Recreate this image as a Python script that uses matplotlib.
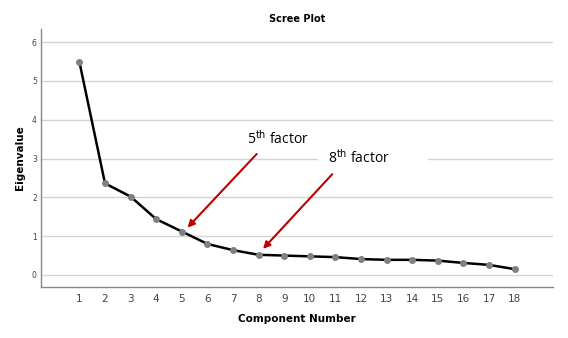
import matplotlib.pyplot as plt
from matplotlib.patches import Rectangle

components = list(range(1, 19))
eigenvalues = [5.49, 2.36, 2.02, 1.44, 1.12, 0.80, 0.64, 0.52, 0.50,
               0.48, 0.46, 0.41, 0.39, 0.39, 0.37, 0.31, 0.26, 0.15]
y_ticks = [0, 1, 2, 3, 4, 5, 6]

fig = plt.figure(figsize=(5.68, 3.38), dpi=100)
ax = fig.add_axes([0.0722, 0.1509, 0.9014, 0.7633])

for y in y_ticks:
    ax.axhline(y, color='#d4d4d4', lw=1.0, zorder=0)

ax.plot(components, eigenvalues, '-', color='black', lw=1.8, zorder=2)
ax.plot(components, eigenvalues, 'o', color='#808080', ms=4, zorder=3)

ax.set_xlim(-0.5, 19.5)
ax.set_ylim(-0.31, 6.34)
ax.set_xticks(components)
ax.set_yticks(y_ticks)
ax.tick_params(axis='x', length=0, labelsize=7.5, labelcolor='#444444', pad=5)
ax.tick_params(axis='y', length=0, labelsize=5.5, labelcolor='#444444', pad=3)

for s in ['top', 'right']:
    ax.spines[s].set_visible(False)
for s in ['left', 'bottom']:
    ax.spines[s].set_color('#888888')
    ax.spines[s].set_linewidth(1.0)

ax.set_title('Scree Plot', fontsize=7, fontweight='bold', pad=5)
ax.set_xlabel('Component Number', fontsize=7.5, fontweight='bold', labelpad=7)
ax.set_ylabel('Eigenvalue', fontsize=7.5, fontweight='bold', labelpad=5)

red = '#c00000'
ax.annotate('', xy=(5.15, 1.17), xytext=(8.0, 3.17),
            arrowprops=dict(arrowstyle='-|>', color=red, lw=1.5, mutation_scale=10))
ax.annotate('', xy=(8.1, 0.62), xytext=(10.95, 2.65),
            arrowprops=dict(arrowstyle='-|>', color=red, lw=1.5, mutation_scale=10))

# white box behind the second label (covers the gridline)
ax.add_patch(Rectangle((10.32, 2.82), 4.3, 0.38, facecolor='white',
                       edgecolor='none', zorder=1))

ax.text(8.76, 3.5, '5$^{\\mathrm{th}}$ factor', fontsize=10, family='Open Sans',
        ha='center', va='center', zorder=4)
ax.text(11.92, 3.02, '8$^{\\mathrm{th}}$ factor', fontsize=10, family='Open Sans',
        ha='center', va='center', zorder=4)

plt.savefig('out.png', dpi=100)
